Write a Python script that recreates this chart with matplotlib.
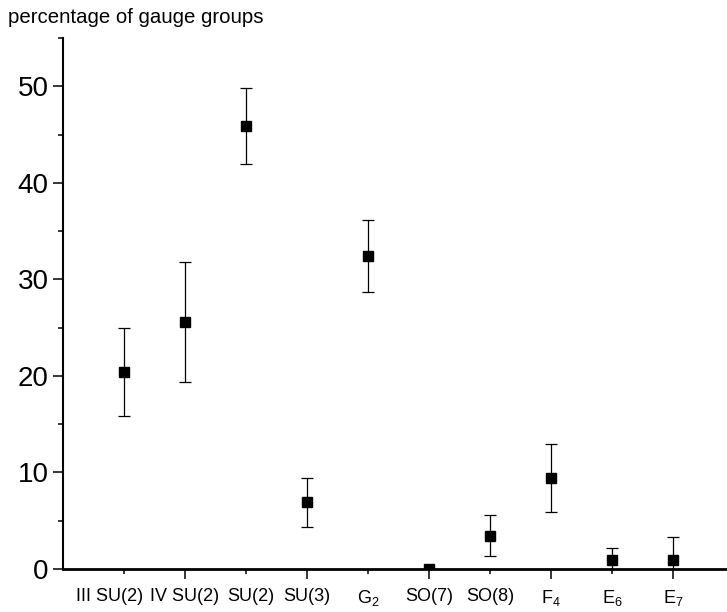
import matplotlib
matplotlib.use("Agg")
import matplotlib.pyplot as plt
from matplotlib.ticker import FixedLocator, MultipleLocator
from matplotlib.transforms import ScaledTranslation

plt.rcParams['font.family'] = ['Liberation Sans', 'DejaVu Sans']
plt.rcParams['mathtext.fontset'] = 'custom'
plt.rcParams['mathtext.rm'] = 'Liberation Sans'
plt.rcParams['mathtext.it'] = 'Liberation Sans'

# gauge groups and their percentages
groups = ['III SU(2)', 'IV SU(2)', 'SU(2)', 'SU(3)', 'G$_2$',
          'SO(7)', 'SO(8)', 'F$_4$', 'E$_6$', 'E$_7$']
percent = [20.4, 25.6, 45.9, 6.9, 32.4, 0.0, 3.45, 9.45, 0.95, 0.95]
errors = [4.6, 6.2, 3.9, 2.55, 3.75, 0.0, 2.15, 3.5, 1.25, 2.35]

positions = list(range(1, len(groups) + 1))

fig = plt.figure(figsize=(7.27, 6.12), dpi=100)
ax = fig.add_axes([0.086, 0.0703, 0.914, 0.8673])

ax.errorbar(positions, percent, yerr=errors, fmt='s', color='black',
            markersize=7.6, ecolor='black', elinewidth=0.9,
            capsize=4.3, capthick=0.9)

ax.set_xlim(0, 10.88)
ax.set_ylim(0, 55)

for side in ['top', 'right']:
    ax.spines[side].set_visible(False)
ax.spines['left'].set_linewidth(1.5)
ax.spines['bottom'].set_linewidth(2.0)

# y axis
ax.yaxis.set_major_locator(MultipleLocator(10))
ax.yaxis.set_minor_locator(MultipleLocator(5))
ax.tick_params(axis='y', which='major', direction='out', length=7,
               width=1.1, labelsize=20, pad=3)
ax.tick_params(axis='y', which='minor', direction='out', length=3.6,
               width=1.1)

# x axis: long ticks on even positions, short ticks on odd ones
even = [p for p in positions if p % 2 == 0]
odd = [p for p in positions if p % 2 == 1]
ax.xaxis.set_major_locator(FixedLocator(even))
ax.xaxis.set_minor_locator(FixedLocator(odd))
ax.set_xticklabels([groups[p - 1] for p in even])
ax.set_xticklabels([groups[p - 1] for p in odd], minor=True)
ax.tick_params(axis='x', which='major', direction='out', length=7.3,
               width=1.1, labelsize=13, pad=6.5)
ax.tick_params(axis='x', which='minor', direction='out', length=3.6,
               width=1.1, labelsize=13, pad=10.2)

# the first and third labels sit a little off their ticks in the original
shifts = {'III SU(2)': -10, 'SU(2)': 3.5}
for lab in ax.get_xticklabels(minor=True):
    dx = shifts.get(lab.get_text(), 0)
    if dx:
        lab.set_transform(lab.get_transform()
                          + ScaledTranslation(dx / 72, 0, fig.dpi_scale_trans))

fig.text(0.011, 1 - 23 / 612, 'percentage of gauge groups', fontsize=14.7,
         ha='left', va='baseline')

fig.savefig('out.png', dpi=100)
